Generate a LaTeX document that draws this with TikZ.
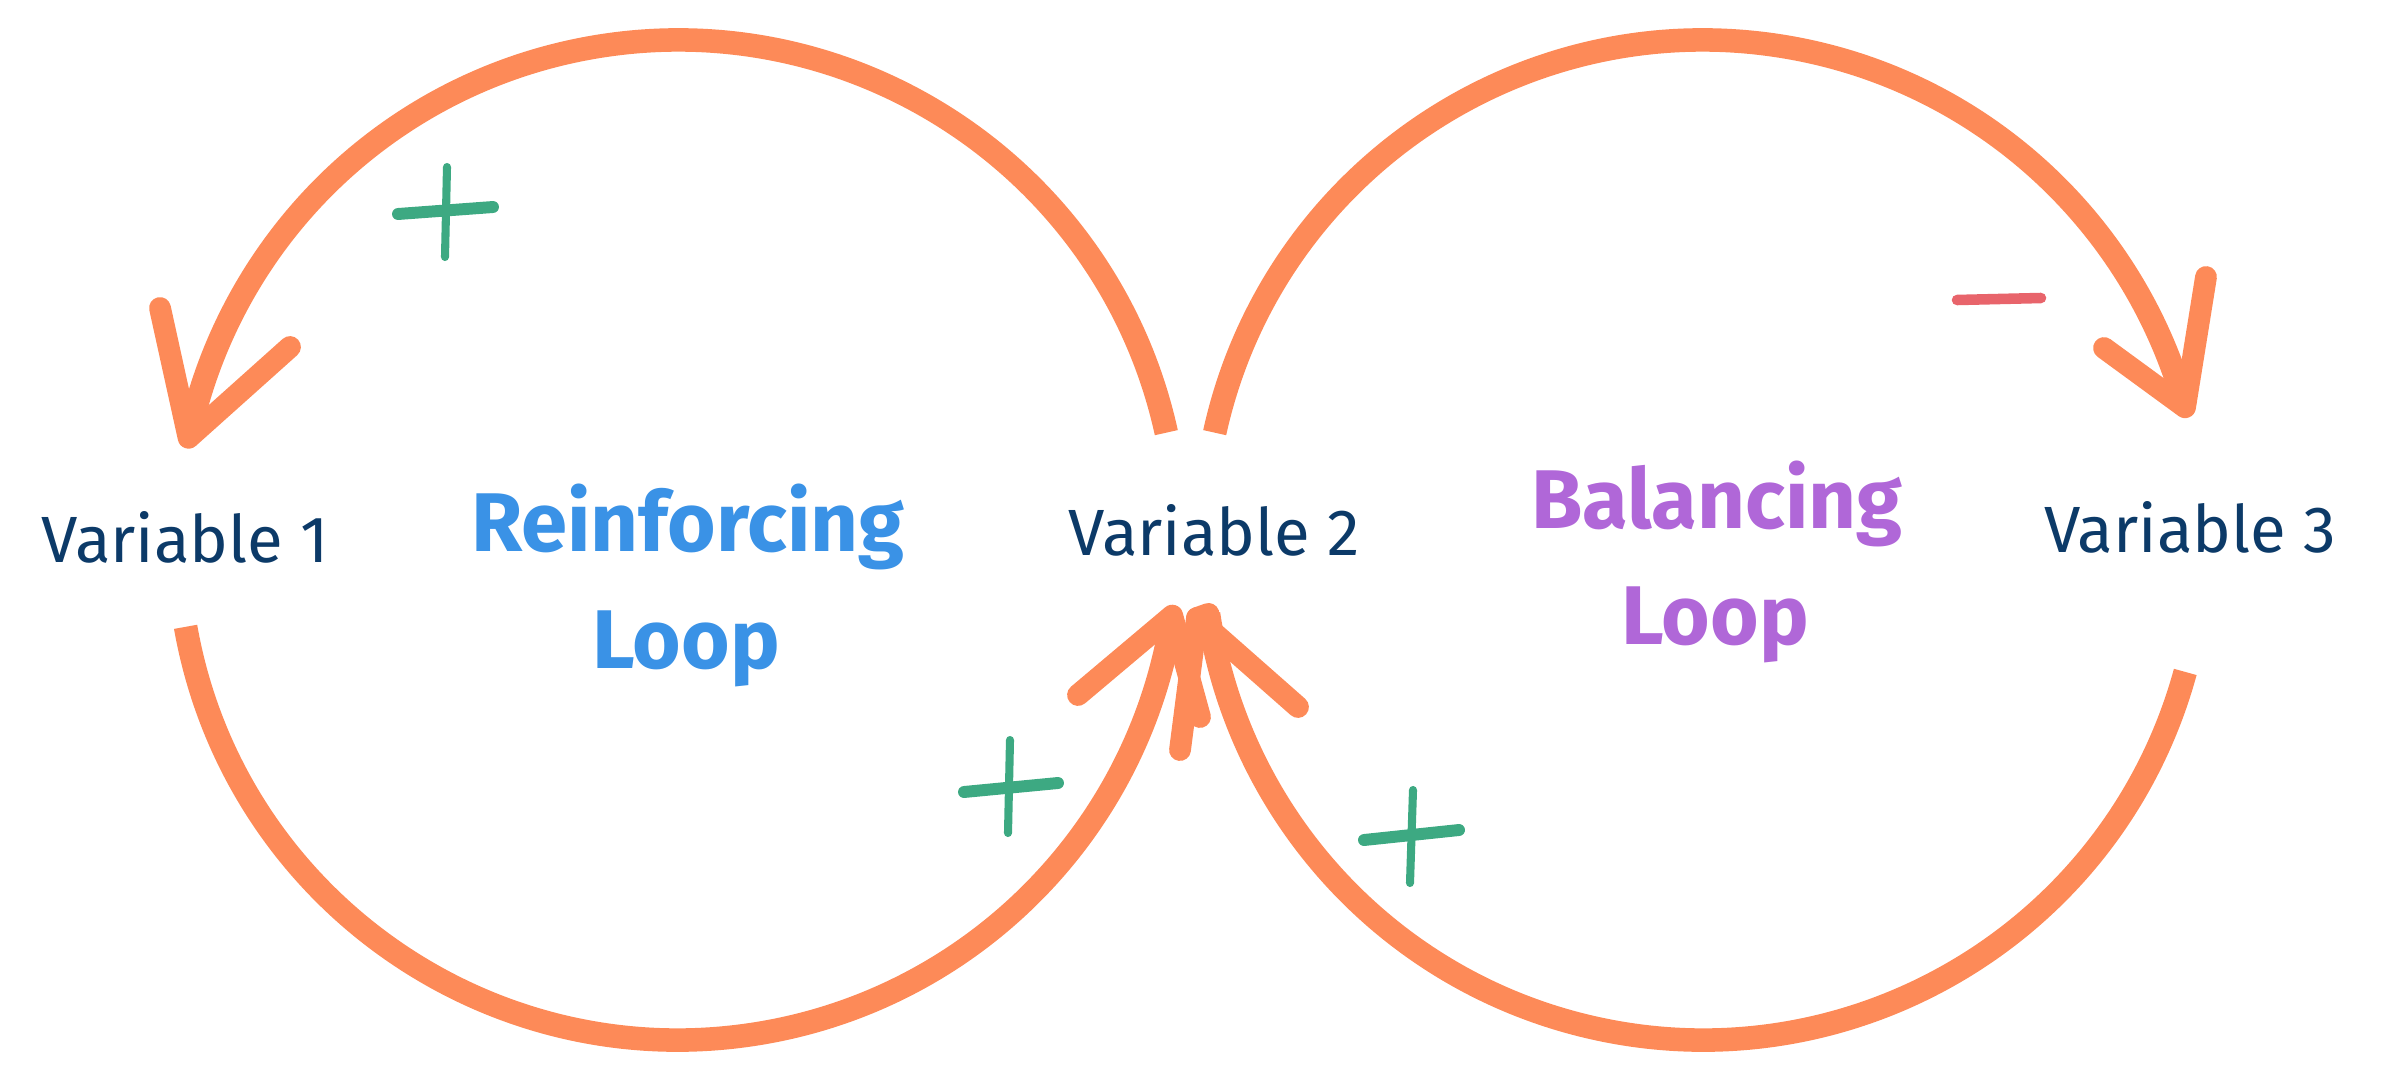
\documentclass[tikz,border=0pt]{standalone}
\usepackage{fontspec}
\setmainfont{Fira Sans}
\definecolor{arcorange}{HTML}{FD8A58}
\definecolor{plusgreen}{HTML}{3DA982}
\definecolor{minusred}{HTML}{E8646B}
\definecolor{loopblue}{HTML}{3A92E6}
\definecolor{looppurple}{HTML}{B067D8}
\definecolor{varnavy}{HTML}{0C3A68}
\begin{document}
\begin{tikzpicture}[
  loopline/.style={draw=arcorange, line width=6.7pt, line cap=butt},
  headline/.style={draw=arcorange, line width=6.2pt, line cap=round, line join=round},
  signline/.style={line width=3pt, line cap=round},
  varlabel/.style={text=varnavy, font=\fontsize{18.6}{22}\selectfont, anchor=base, inner sep=0pt},
  looplabel/.style={font=\bfseries\fontsize{23.7}{28}\selectfont, anchor=base, inner sep=0pt}
]
\useasboundingbox (0,0) rectangle (23.92,10.84);

% variables and loop names
\node[varlabel] (v1) at (1.85,5.22) {Variable 1};
\node[varlabel] (v2) at (12.14,5.29) {Variable 2};
\node[varlabel] (v3) at (21.90,5.32) {Variable 3};
\node[looplabel, text=loopblue] (rl1) at (6.88,5.33) {Reinforcing};
\node[looplabel, text=loopblue] (rl2) at (6.86,4.16) {Loop};
\node[looplabel, text=looppurple] (bl1) at (17.17,5.56) {Balancing};
\node[looplabel, text=looppurple] (bl2) at (17.15,4.40) {Loop};

% circle centres
\coordinate (cL) at (6.78,5.44);
\coordinate (cR) at (17.03,5.44);

% left loop, upper arc: Variable 2 -> Variable 1
\coordinate (ltS) at ([shift={(12.4:5)}]cL);
\draw[loopline] (ltS) arc[start angle=12.4, end angle=168.2, radius=5] coordinate (ltT);
\coordinate (ltA) at (1.60,7.76);
\coordinate (ltB) at (2.90,7.37);
\draw[headline] (ltA) -- (ltT) -- (ltB);

% left loop, lower arc: Variable 1 -> Variable 2
\coordinate (lbS) at ([shift={(190:5)}]cL);
\draw[loopline] (lbS) arc[start angle=190, end angle=351.3, radius=5] coordinate (lbT);
\coordinate (lbA) at (10.78,3.89);
\coordinate (lbB) at (12.00,3.67);
\draw[headline] (lbA) -- (lbT) -- (lbB);

% right loop, upper arc: Variable 2 -> Variable 3
\coordinate (rtS) at ([shift={(167.6:5)}]cR);
\draw[loopline] (rtS) arc[start angle=167.6, end angle=15.4, radius=5] coordinate (rtT);
\coordinate (rtA) at (22.06,8.07);
\coordinate (rtB) at (21.04,7.36);
\draw[headline] (rtA) -- (rtT) -- (rtB);

% right loop, lower arc: Variable 3 -> Variable 2
\coordinate (rbS) at ([shift={(-15.3:5)}]cR);
\coordinate (rbT) at (11.97,4.66);
\draw[loopline] (rbS) arc[start angle=-15.3, end angle=-171.5, radius=5] coordinate (rbE);
\draw[headline] (rbE) -- (rbT);
\coordinate (rbA) at (11.80,3.34);
\coordinate (rbB) at (12.98,3.77);
\draw[headline] (rbA) -- (rbT) -- (rbB);

% polarity signs
\coordinate (p1a) at (4.47,9.17); \coordinate (p1b) at (4.45,8.27);
\coordinate (p1c) at (3.98,8.70); \coordinate (p1d) at (4.93,8.77);
\draw[signline, draw=plusgreen, line width=2.3pt] (p1a) -- (p1b);
\draw[signline, draw=plusgreen, line width=3.4pt] (p1c) -- (p1d);

\coordinate (p2a) at (10.10,3.44); \coordinate (p2b) at (10.08,2.51);
\coordinate (p2c) at (9.64,2.92); \coordinate (p2d) at (10.58,3.01);
\draw[signline, draw=plusgreen, line width=2.3pt] (p2a) -- (p2b);
\draw[signline, draw=plusgreen, line width=3.4pt] (p2c) -- (p2d);

\coordinate (p3a) at (14.13,2.94); \coordinate (p3b) at (14.10,2.01);
\coordinate (p3c) at (13.64,2.44); \coordinate (p3d) at (14.59,2.54);
\draw[signline, draw=plusgreen, line width=2.3pt] (p3a) -- (p3b);
\draw[signline, draw=plusgreen, line width=3.4pt] (p3c) -- (p3d);

\coordinate (m1a) at (19.57,7.84); \coordinate (m1b) at (20.41,7.86);
\draw[signline, draw=minusred] (m1a) -- (m1b);
\end{tikzpicture}
\end{document}
